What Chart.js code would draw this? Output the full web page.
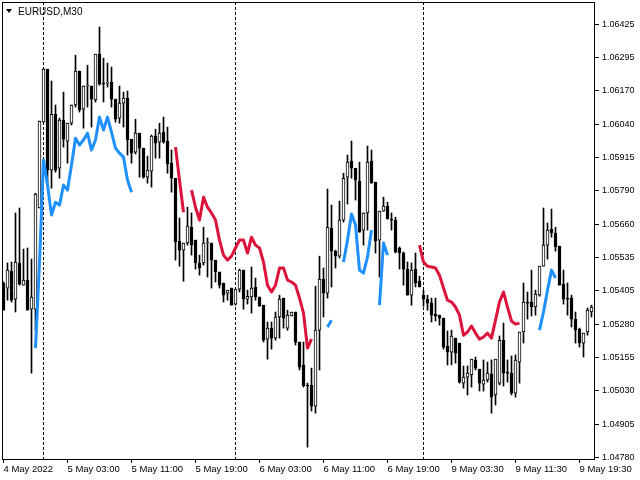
<!DOCTYPE html>
<html>
<head>
<meta charset="utf-8">
<script src="https://cdn.jsdelivr.net/npm/chart.js@4.4.1/dist/chart.umd.min.js"></script>
<style>
  html, body { margin: 0; padding: 0; background: #fff; }
  #wrap { width: 640px; height: 480px; }
</style>
</head>
<body>
<div id="wrap"><canvas id="chart"></canvas></div>
<script>
// ---- data: EURUSD M30, one entry per bar (bar 0 = 4 May 19:00) ----
const symbolTitle = 'EURUSD,M30';

const opens = [
  1.05442, 1.05423, 1.05487, 1.05381, 1.05518, 1.05434, 1.05453, 1.05343, 1.05343, 1.05727,
  1.06053, 1.06254, 1.05871, 1.06083, 1.05878, 1.06061, 1.05981, 1.06049, 1.06118, 1.06247,
  1.06102, 1.06190, 1.06190, 1.06137, 1.06311, 1.06201, 1.06201, 1.06205, 1.06140, 1.06068,
  1.06125, 1.06144, 1.05988, 1.05939, 1.06011, 1.05954, 1.05844, 1.05867, 1.06000, 1.05977,
  1.06015, 1.05981, 1.05897, 1.05840, 1.05601, 1.05567, 1.05594, 1.05654, 1.05605, 1.05518,
  1.05518, 1.05594, 1.05594, 1.05529, 1.05484, 1.05442, 1.05404, 1.05423, 1.05362, 1.05419,
  1.05491, 1.05381, 1.05389, 1.05427, 1.05389, 1.05358, 1.05229, 1.05271, 1.05233, 1.05313,
  1.05385, 1.05271, 1.05317, 1.05332, 1.05218, 1.05131, 1.05055, 1.05055, 1.04975, 1.05263,
  1.05457, 1.05404, 1.05651, 1.05563, 1.05544, 1.05681, 1.05844, 1.05905, 1.05878, 1.05829,
  1.05643, 1.05708, 1.05905, 1.05825, 1.05605, 1.05715, 1.05734, 1.05685, 1.05681, 1.05575,
  1.05556, 1.05495, 1.05396, 1.05495, 1.05449, 1.05396, 1.05381, 1.05366, 1.05324, 1.05320,
  1.05309, 1.05203, 1.05180, 1.05233, 1.05214, 1.05062, 1.05085, 1.05093, 1.05150, 1.05115,
  1.05058, 1.05074, 1.05096, 1.05017, 1.05062, 1.05225, 1.05104, 1.05100, 1.05024, 1.05142,
  1.05256, 1.05370, 1.05370, 1.05351, 1.05396, 1.05506, 1.05586, 1.05647, 1.05632, 1.05582,
  1.05438, 1.05385, 1.05385, 1.05305, 1.05267, 1.05214, 1.05256, 1.05332
];
const highs = [
  1.05446, 1.05518, 1.05522, 1.05708, 1.05727, 1.05571, 1.05575, 1.05533, 1.05783, 1.06057,
  1.06258, 1.06254, 1.06209, 1.06118, 1.06068, 1.06167, 1.06049, 1.06118, 1.06307, 1.06247,
  1.06190, 1.06269, 1.06190, 1.06311, 1.06414, 1.06296, 1.06277, 1.06262, 1.06140, 1.06190,
  1.06167, 1.06171, 1.05988, 1.06064, 1.06011, 1.05954, 1.05924, 1.06004, 1.06026, 1.06049,
  1.06072, 1.06034, 1.05947, 1.05840, 1.05689, 1.05594, 1.05730, 1.05708, 1.05605, 1.05548,
  1.05654, 1.05613, 1.05594, 1.05529, 1.05484, 1.05442, 1.05415, 1.05423, 1.05419, 1.05495,
  1.05491, 1.05415, 1.05503, 1.05461, 1.05389, 1.05358, 1.05294, 1.05294, 1.05332, 1.05396,
  1.05385, 1.05339, 1.05332, 1.05332, 1.05218, 1.05218, 1.05062, 1.05119, 1.05430, 1.05544,
  1.05499, 1.05799, 1.05738, 1.05567, 1.05753, 1.05859, 1.05928, 1.05981, 1.05878, 1.05901,
  1.05708, 1.05962, 1.05947, 1.05825, 1.05715, 1.05768, 1.05749, 1.05708, 1.05692, 1.05579,
  1.05560, 1.05522, 1.05518, 1.05556, 1.05468, 1.05415, 1.05396, 1.05385, 1.05385, 1.05320,
  1.05309, 1.05260, 1.05263, 1.05233, 1.05214, 1.05127, 1.05127, 1.05153, 1.05161, 1.05115,
  1.05150, 1.05142, 1.05150, 1.05153, 1.05241, 1.05290, 1.05150, 1.05165, 1.05169, 1.05256,
  1.05442, 1.05408, 1.05491, 1.05415, 1.05506, 1.05727, 1.05670, 1.05723, 1.05654, 1.05582,
  1.05491, 1.05442, 1.05396, 1.05332, 1.05271, 1.05252, 1.05347, 1.05358
];
const lows = [
  1.05339, 1.05377, 1.05370, 1.05332, 1.05434, 1.05434, 1.05339, 1.05100, 1.05263, 1.05727,
  1.06053, 1.05814, 1.05802, 1.05863, 1.05840, 1.05958, 1.05897, 1.06042, 1.06110, 1.06091,
  1.06030, 1.06110, 1.06034, 1.06129, 1.06193, 1.06129, 1.06186, 1.06110, 1.06053, 1.06049,
  1.06034, 1.05928, 1.05897, 1.05932, 1.05844, 1.05840, 1.05821, 1.05806, 1.05916, 1.05916,
  1.05973, 1.05859, 1.05787, 1.05529, 1.05506, 1.05449, 1.05586, 1.05548, 1.05495, 1.05472,
  1.05510, 1.05465, 1.05423, 1.05446, 1.05423, 1.05370, 1.05377, 1.05358, 1.05358, 1.05408,
  1.05343, 1.05362, 1.05328, 1.05377, 1.05354, 1.05218, 1.05153, 1.05191, 1.05225, 1.05233,
  1.05271, 1.05263, 1.05317, 1.05207, 1.05112, 1.05047, 1.04819, 1.04956, 1.04948, 1.05112,
  1.05313, 1.05385, 1.05427, 1.05499, 1.05537, 1.05673, 1.05742, 1.05840, 1.05757, 1.05635,
  1.05586, 1.05643, 1.05821, 1.05556, 1.05465, 1.05715, 1.05685, 1.05643, 1.05556, 1.05495,
  1.05434, 1.05396, 1.05358, 1.05427, 1.05427, 1.05354, 1.05339, 1.05294, 1.05298, 1.05282,
  1.05191, 1.05131, 1.05131, 1.05138, 1.05062, 1.05043, 1.05017, 1.05047, 1.05112, 1.05032,
  1.05032, 1.05066, 1.04948, 1.04979, 1.05055, 1.05051, 1.05066, 1.05017, 1.05009, 1.05062,
  1.05214, 1.05305, 1.05317, 1.05320, 1.05392, 1.05506, 1.05533, 1.05616, 1.05563, 1.05434,
  1.05362, 1.05320, 1.05275, 1.05214, 1.05199, 1.05161, 1.05244, 1.05313
];
const closes = [
  1.05339, 1.05491, 1.05377, 1.05522, 1.05438, 1.05453, 1.05339, 1.05389, 1.05780, 1.06057,
  1.06254, 1.05871, 1.06083, 1.05871, 1.06061, 1.05988, 1.06049, 1.06118, 1.06247, 1.06099,
  1.06190, 1.06193, 1.06140, 1.06311, 1.06197, 1.06197, 1.06205, 1.06140, 1.06064, 1.06125,
  1.06144, 1.05985, 1.05935, 1.06011, 1.05954, 1.05844, 1.05871, 1.06000, 1.05973, 1.06011,
  1.05977, 1.05894, 1.05840, 1.05598, 1.05567, 1.05594, 1.05658, 1.05586, 1.05518, 1.05499,
  1.05594, 1.05598, 1.05529, 1.05484, 1.05434, 1.05396, 1.05415, 1.05358, 1.05419, 1.05491,
  1.05381, 1.05392, 1.05423, 1.05389, 1.05354, 1.05225, 1.05271, 1.05233, 1.05313, 1.05381,
  1.05309, 1.05320, 1.05332, 1.05218, 1.05123, 1.05051, 1.05051, 1.04975, 1.05263, 1.05457,
  1.05404, 1.05654, 1.05563, 1.05544, 1.05681, 1.05840, 1.05901, 1.05878, 1.05833, 1.05635,
  1.05708, 1.05901, 1.05821, 1.05601, 1.05715, 1.05734, 1.05685, 1.05681, 1.05560, 1.05556,
  1.05495, 1.05396, 1.05491, 1.05442, 1.05427, 1.05381, 1.05366, 1.05320, 1.05317, 1.05309,
  1.05199, 1.05180, 1.05241, 1.05176, 1.05066, 1.05085, 1.05100, 1.05153, 1.05119, 1.05062,
  1.05074, 1.05100, 1.05009, 1.05153, 1.05225, 1.05100, 1.05100, 1.05024, 1.05150, 1.05256,
  1.05370, 1.05366, 1.05351, 1.05400, 1.05506, 1.05586, 1.05643, 1.05632, 1.05579, 1.05434,
  1.05381, 1.05381, 1.05305, 1.05263, 1.05214, 1.05252, 1.05339, 1.05351
];

// indicator lines, drawn only in pieces: [first bar, values...]
const blueSegments = [
  [8, [1.05195, 1.05518, 1.05909, 1.05814, 1.05700, 1.05749, 1.05738, 1.05814, 1.05795, 1.05890,
       1.05992, 1.05966, 1.05985, 1.06011, 1.05947, 1.05985, 1.06072, 1.06023, 1.06072, 1.06015,
       1.05954, 1.05935, 1.05920, 1.05833, 1.05787]],
  [81, [1.05275, 1.05301]],
  [85, [1.05522, 1.05605, 1.05704, 1.05662, 1.05491, 1.05480, 1.05541, 1.05643]],
  [94, [1.05358, 1.05594, 1.05548]],
  [134, [1.05263, 1.05332, 1.05415, 1.05491, 1.05461]]
];
const redSegments = [
  [43, [1.05958, 1.05833, 1.05711]],
  [47, [1.05795, 1.05730, 1.05681, 1.05768, 1.05730, 1.05708, 1.05681, 1.05605, 1.05548, 1.05529,
        1.05544, 1.05575, 1.05605, 1.05605, 1.05556, 1.05616, 1.05586, 1.05575, 1.05522, 1.05434,
        1.05408, 1.05434, 1.05499, 1.05499, 1.05453, 1.05446, 1.05434, 1.05385, 1.05328, 1.05195,
        1.05229]],
  [104, [1.05586, 1.05522, 1.05506, 1.05503, 1.05499, 1.05472, 1.05423, 1.05377, 1.05370, 1.05351,
         1.05320, 1.05244, 1.05256, 1.05279, 1.05252, 1.05229, 1.05237, 1.05252, 1.05233, 1.05301,
         1.05370, 1.05408, 1.05351, 1.05298, 1.05286, 1.05290]]
];

const xTickBars = [0, 16, 32, 48, 64, 80, 96, 112, 128, 144];
const xTickLabels = ['4 May 2022', '5 May 03:00', '5 May 11:00', '5 May 19:00', '6 May 03:00',
                     '6 May 11:00', '6 May 19:00', '9 May 03:30', '9 May 11:30', '9 May 19:30'];
const daySeparators = [10, 58, 105];
const yTickLabels = ['1.06425', '1.06295', '1.06170', '1.06040', '1.05915', '1.05790', '1.05660',
                     '1.05535', '1.05405', '1.05280', '1.05155', '1.05030', '1.04905', '1.04780'];

// ---- build datasets ----
const barCount = opens.length;

function segmentsToPoints(segs) {
  const pts = [];
  for (let i = 0; i < barCount; i++) pts.push({ x: i, y: null });
  segs.forEach(([start, vals]) => vals.forEach((v, k) => { pts[start + k].y = v; }));
  return pts;
}

// grid prices are evenly spaced between first and last label
const yTop = parseFloat(yTickLabels[0]);
const yBottom = parseFloat(yTickLabels[yTickLabels.length - 1]);
const yStep = (yTop - yBottom) / (yTickLabels.length - 1);
const yTickValues = yTickLabels.map((_, i) => yTop - i * yStep);

const isBull = opens.map((o, i) => closes[i] >= o);

const FONT = "'Liberation Sans', Arial, sans-serif";

const chartFrame = {
  id: 'chartFrame',
  beforeDatasetsDraw(chart) {
    const { ctx, chartArea: a, scales: { x } } = chart;
    ctx.save();
    ctx.strokeStyle = '#000';
    ctx.lineWidth = 1;
    ctx.setLineDash([3, 2]);
    daySeparators.forEach(i => {
      const px = Math.floor(x.getPixelForValue(i)) + 0.5;
      ctx.beginPath();
      ctx.moveTo(px, a.top);
      ctx.lineTo(px, a.bottom);
      ctx.stroke();
    });
    ctx.restore();
  },
  afterDraw(chart) {
    const { ctx, chartArea: a } = chart;
    ctx.save();
    ctx.strokeStyle = '#000';
    ctx.lineWidth = 1;
    ctx.strokeRect(a.left + 0.5, a.top + 0.5, a.width, a.height);
    // symbol caption
    ctx.fillStyle = '#000';
    ctx.beginPath();
    ctx.moveTo(6, 9); ctx.lineTo(12, 9); ctx.lineTo(9, 13); ctx.closePath();
    ctx.fill();
    ctx.font = '10px ' + FONT;
    ctx.textBaseline = 'alphabetic';
    ctx.fillText(symbolTitle, 18, 15);
    ctx.restore();
  }
};

const ctx = document.getElementById('chart').getContext('2d');
new Chart(ctx, {
  data: {
    datasets: [
      {
        type: 'line', label: 'blue', data: segmentsToPoints(blueSegments),
        borderColor: '#1E90FF', borderWidth: 3, pointRadius: 0, spanGaps: false,
        tension: 0, borderJoinStyle: 'round'
      },
      {
        type: 'line', label: 'red', data: segmentsToPoints(redSegments),
        borderColor: '#DC143C', borderWidth: 3, pointRadius: 0, spanGaps: false,
        tension: 0, borderJoinStyle: 'round'
      },
      {
        type: 'bar', label: 'body',
        data: opens.map((o, i) => ({ x: i, y: [o, closes[i]] })),
        backgroundColor: isBull.map(b => b ? '#ffffff' : '#000000'),
        borderColor: '#000000', borderWidth: 1, borderSkipped: false,
        barThickness: 3, minBarLength: 1, grouped: false
      },
      {
        type: 'bar', label: 'wick',
        data: lows.map((l, i) => ({ x: i, y: [l, highs[i]] })),
        backgroundColor: '#000000', borderWidth: 0,
        barThickness: 1, minBarLength: 1, grouped: false
      }
    ]
  },
  options: {
    responsive: true, maintainAspectRatio: false, animation: false,
    layout: { padding: { left: 2, top: 2, right: 0, bottom: 0 } },
    plugins: { legend: { display: false }, tooltip: { enabled: false } },
    scales: {
      x: {
        type: 'linear', min: -0.375, max: barCount - 0.375, offset: false,
        afterBuildTicks: axis => { axis.ticks = xTickBars.map(v => ({ value: v })); },
        afterFit: axis => { axis.height = 21; axis.paddingLeft = 0; axis.paddingRight = 0; },
        ticks: {
          autoSkip: false, maxRotation: 0, align: 'start', padding: 1,
          color: '#000', font: { family: FONT, size: 9.5 },
          callback: (v, i) => xTickLabels[i]
        },
        grid: { drawOnChartArea: false, offset: false, tickLength: 4, color: '#000' },
        border: { display: false }
      },
      y: {
        position: 'right', min: 1.04774, max: 1.06509,
        afterBuildTicks: axis => { axis.ticks = yTickValues.map(v => ({ value: v })); },
        afterFit: axis => { axis.width = 46; axis.paddingTop = 0; axis.paddingBottom = 0; },
        ticks: {
          autoSkip: false, padding: 3,
          color: '#000', font: { family: FONT, size: 9 },
          callback: (v, i) => yTickLabels[i]
        },
        grid: { drawOnChartArea: false, tickLength: 5, color: '#000' },
        border: { display: false }
      }
    }
  },
  plugins: [chartFrame]
});
</script>
</body>
</html>
